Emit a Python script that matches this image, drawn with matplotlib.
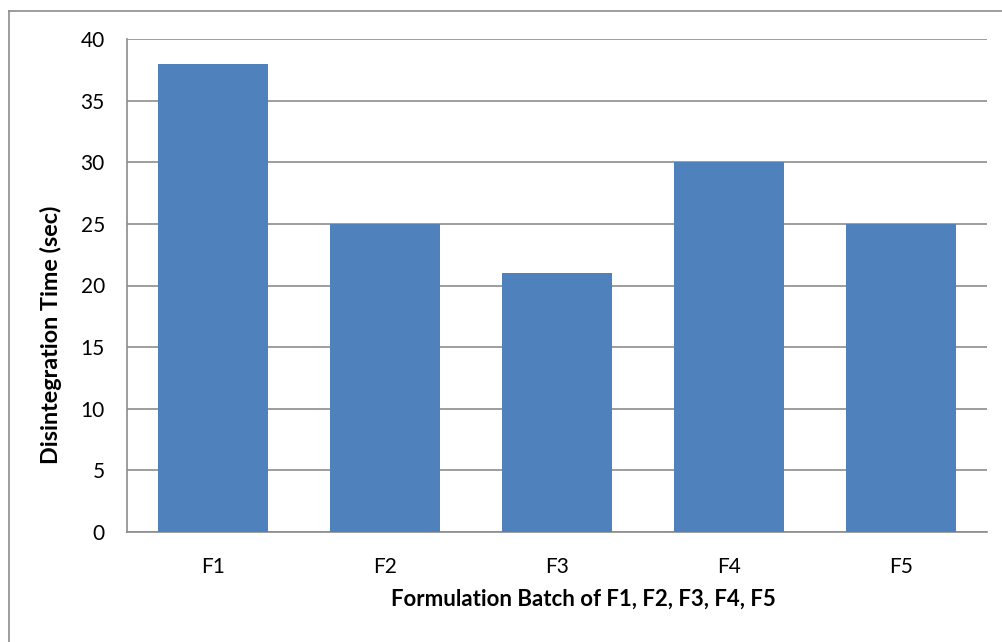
import matplotlib
matplotlib.use("Agg")
import matplotlib.pyplot as plt

categories = ["F1", "F2", "F3", "F4", "F5"]
values = [38, 25, 21, 30, 25]
yticks = [0, 5, 10, 15, 20, 25, 30, 35, 40]

plt.rcParams['font.family'] = ['Lato', 'DejaVu Sans']

fig = plt.figure(figsize=(10.03, 6.42), dpi=100)
W, H = 1003, 642
ax = fig.add_axes([127 / W, 1 - 532 / H, 860 / W, (532 - 39) / H])

x = list(range(len(categories)))
ax.bar(x, values, width=0.645, color="#4F81BD", zorder=3)
ax.set_xlim(-0.5, len(categories) - 0.5)
ax.set_ylim(0, 40)
ax.set_yticks(yticks)
ax.set_xticks(x)
ax.set_xticklabels(categories)
ax.yaxis.grid(True, color="#8C8C8C", linewidth=1.2, zorder=0)
ax.tick_params(length=0, labelsize=15, colors="black")
ax.tick_params(axis='y', pad=16)
ax.tick_params(axis='x', pad=18)
for s in ["top", "right"]:
    ax.spines[s].set_visible(False)
for s in ["left", "bottom"]:
    ax.spines[s].set_color("#8C8C8C")
    ax.spines[s].set_linewidth(1.2)

ax.set_ylabel("Disintegration Time (sec)", fontsize=16.8, fontweight="bold", labelpad=13)
ax.set_xlabel("Formulation Batch of F1, F2, F3, F4, F5", fontsize=16, fontweight="bold", labelpad=13)
ax.xaxis.set_label_coords(0.531, -0.115)
ax.yaxis.label.set_y(0.40)

# outer chart border
fig.add_artist(plt.Line2D([9 / W, 9 / W], [0, 1 - 11 / H], transform=fig.transFigure, color="#8C8C8C", lw=1.2))
fig.add_artist(plt.Line2D([9 / W, 1], [1 - 11 / H, 1 - 11 / H], transform=fig.transFigure, color="#8C8C8C", lw=1.2))

fig.savefig("out.png", dpi=100)
